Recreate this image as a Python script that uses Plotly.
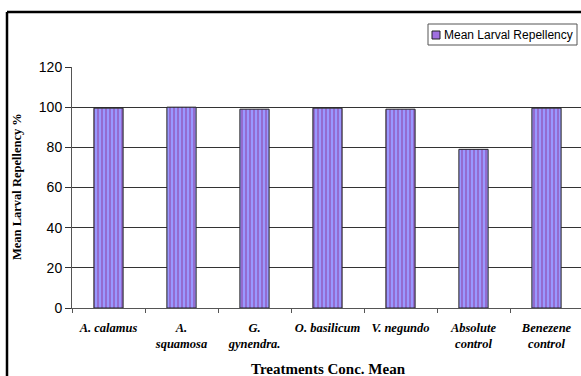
import plotly.graph_objects as go

categories = ["A. calamus", "A.<br>squamosa", "G.<br>gynendra.", "O. basilicum", "V. negundo", "Absolute<br>control", "Benezene<br>control"]
values = [99.5, 100, 99, 99.5, 99, 79, 99.5]
series_name = "Mean Larval Repellency"
y_ticks = [0, 20, 40, 60, 80, 100, 120]

fig = go.Figure()
fig.add_trace(go.Bar(
    x=categories, y=values, name=series_name, width=0.4, showlegend=False,
    marker=dict(color="#9999FF", line=dict(color="#222222", width=1),
                pattern=dict(shape="|", fgcolor="#9040A0", size=4, solidity=0.5)),
))

W, H = 581, 376
L, R, T, B = 72, 0, 67, 68
pw, ph = W - L - R, H - T - B


def px(x):
    return (x - L) / pw


def py(y):
    return (H - B - y) / ph


fig.update_layout(
    width=W, height=H,
    margin=dict(l=L, r=R, t=T, b=B, autoexpand=False),
    paper_bgcolor="white", plot_bgcolor="white",
    bargap=0.6,
    font=dict(family="Arial, Liberation Sans", color="black"),
)
fig.update_xaxes(
    type="category", range=[-0.5, -0.5 + pw / 73.0],
    showline=True, linecolor="#555555", linewidth=1,
    ticks="outside", ticklen=4, tickcolor="#555555", tickson="boundaries",
    ticklabelstandoff=8, tickangle=0,
    tickfont=dict(family="Liberation Serif, Times New Roman", size=12.5, color="black", style="italic", weight="bold"),
    showgrid=False,
)
fig.update_yaxes(
    range=[0, 120], tickvals=y_ticks,
    showline=True, linecolor="#555555", linewidth=1,
    ticks="outside", ticklen=6, tickcolor="#333333",
    tickfont=dict(family="Arial, Liberation Sans", size=14, color="black"),
    showgrid=True, gridcolor="#333333", gridwidth=1,
    zeroline=False,
)

# outer frame (left & top)
fig.add_shape(type="line", xref="paper", yref="paper", x0=px(7), x1=px(7), y0=-1, y1=py(12),
              line=dict(color="black", width=2.5))
fig.add_shape(type="line", xref="paper", yref="paper", x0=px(7), x1=1.5, y0=py(12), y1=py(12),
              line=dict(color="black", width=2.5))

# legend box
fig.add_shape(type="rect", xref="paper", yref="paper", x0=px(428), x1=px(577), y0=py(45), y1=py(24),
              line=dict(color="#555555", width=1), fillcolor="white")
fig.add_shape(type="rect", xref="paper", yref="paper", x0=px(432), x1=px(440), y0=py(39), y1=py(31),
              line=dict(color="#222222", width=1), fillcolor="#A070E0")
fig.add_annotation(text=series_name, xref="paper", yref="paper", x=px(442), y=py(34.5),
                   xanchor="left", yanchor="middle", showarrow=False,
                   font=dict(family="Arial, Liberation Sans", size=12, color="black"))

fig.add_annotation(text="<b>Mean Larval Repellency %</b>", xref="paper", yref="paper",
                   x=px(17), y=py(187), textangle=-90, showarrow=False,
                   xanchor="center", yanchor="middle",
                   font=dict(family="Liberation Serif, Times New Roman", size=12.5, color="black"))
fig.add_annotation(text="<b>Treatments Conc. Mean</b>", xref="paper", yref="paper",
                   x=px(328), y=py(369), showarrow=False, xanchor="center", yanchor="middle",
                   font=dict(family="Liberation Serif, Times New Roman", size=15, color="black"))

fig.write_html("out.html")
